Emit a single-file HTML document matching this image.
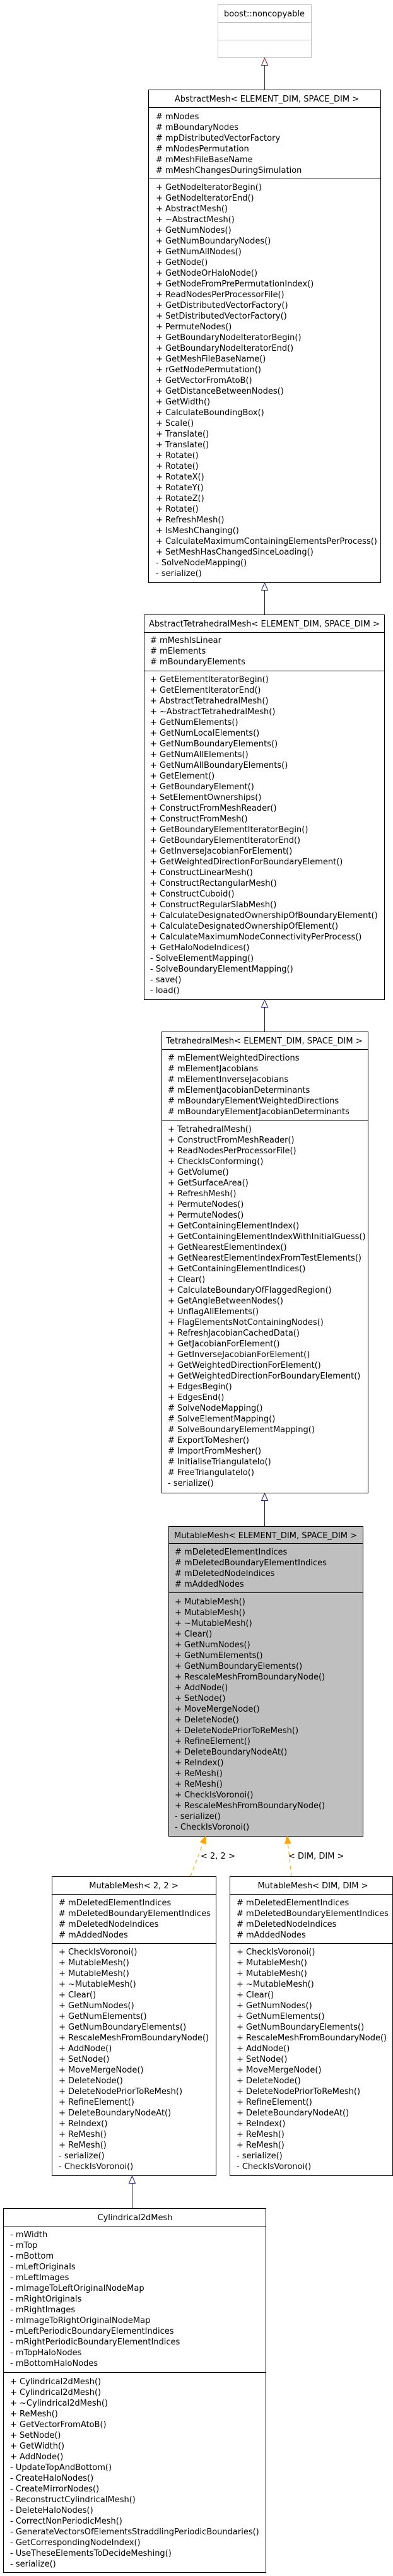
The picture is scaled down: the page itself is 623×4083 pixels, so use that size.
<!DOCTYPE html>
<html><head><meta charset="utf-8"><style>
html,body{margin:0;padding:0;background:#fff;}
svg{display:block;}
text{font-family:"DejaVu Sans","Liberation Sans",sans-serif;font-size:13px;fill:#000;}
</style></head><body>
<svg width="623" height="4083" viewBox="0 0 623 4083" xmlns="http://www.w3.org/2000/svg">
<rect x="0" y="0" width="623" height="4083" fill="#fff"/>

<rect x="345.5" y="7.5" width="148" height="84" fill="#fff" stroke="#bfbfbf"/>
<line x1="345" y1="35.5" x2="493" y2="35.5" stroke="#bfbfbf"/>
<line x1="345" y1="63.5" x2="493" y2="63.5" stroke="#bfbfbf"/>
<text x="419" y="26" text-anchor="middle">boost::noncopyable</text>

<line x1="419.5" y1="142" x2="419.5" y2="103" stroke="#8b1a1a"/>
<polygon points="419.5,92 414.5,103.5 424.5,103.5" fill="#fff" stroke="#8b1a1a"/>

<rect x="235.5" y="142.5" width="368" height="781" fill="#fff" stroke="#000"/>
<line x1="235" y1="170.5" x2="603" y2="170.5" stroke="#000"/>
<line x1="235" y1="283.5" x2="603" y2="283.5" stroke="#000"/>
<text x="423" y="161" text-anchor="middle">AbstractMesh&lt; ELEMENT_DIM, SPACE_DIM &gt;</text>
<text y="189">
<tspan x="247">#&#160;mNodes</tspan>
<tspan x="247" dy="17">#&#160;mBoundaryNodes</tspan>
<tspan x="247" dy="17">#&#160;mpDistributedVectorFactory</tspan>
<tspan x="247" dy="17">#&#160;mNodesPermutation</tspan>
<tspan x="247" dy="17">#&#160;mMeshFileBaseName</tspan>
<tspan x="247" dy="17">#&#160;mMeshChangesDuringSimulation</tspan>
</text>
<text y="301">
<tspan x="247">+ GetNodeIteratorBegin()</tspan>
<tspan x="247" dy="17">+ GetNodeIteratorEnd()</tspan>
<tspan x="247" dy="17">+ AbstractMesh()</tspan>
<tspan x="247" dy="17">+ ~AbstractMesh()</tspan>
<tspan x="247" dy="17">+ GetNumNodes()</tspan>
<tspan x="247" dy="17">+ GetNumBoundaryNodes()</tspan>
<tspan x="247" dy="17">+ GetNumAllNodes()</tspan>
<tspan x="247" dy="17">+ GetNode()</tspan>
<tspan x="247" dy="17">+ GetNodeOrHaloNode()</tspan>
<tspan x="247" dy="17">+ GetNodeFromPrePermutationIndex()</tspan>
<tspan x="247" dy="17">+ ReadNodesPerProcessorFile()</tspan>
<tspan x="247" dy="17">+ GetDistributedVectorFactory()</tspan>
<tspan x="247" dy="17">+ SetDistributedVectorFactory()</tspan>
<tspan x="247" dy="17">+ PermuteNodes()</tspan>
<tspan x="247" dy="17">+ GetBoundaryNodeIteratorBegin()</tspan>
<tspan x="247" dy="17">+ GetBoundaryNodeIteratorEnd()</tspan>
<tspan x="247" dy="17">+ GetMeshFileBaseName()</tspan>
<tspan x="247" dy="17">+ rGetNodePermutation()</tspan>
<tspan x="247" dy="17">+ GetVectorFromAtoB()</tspan>
<tspan x="247" dy="17">+ GetDistanceBetweenNodes()</tspan>
<tspan x="247" dy="17">+ GetWidth()</tspan>
<tspan x="247" dy="17">+ CalculateBoundingBox()</tspan>
<tspan x="247" dy="17">+ Scale()</tspan>
<tspan x="247" dy="17">+ Translate()</tspan>
<tspan x="247" dy="17">+ Translate()</tspan>
<tspan x="247" dy="17">+ Rotate()</tspan>
<tspan x="247" dy="17">+ Rotate()</tspan>
<tspan x="247" dy="17">+ RotateX()</tspan>
<tspan x="247" dy="17">+ RotateY()</tspan>
<tspan x="247" dy="17">+ RotateZ()</tspan>
<tspan x="247" dy="17">+ Rotate()</tspan>
<tspan x="247" dy="17">+ RefreshMesh()</tspan>
<tspan x="247" dy="17">+ IsMeshChanging()</tspan>
<tspan x="247" dy="17">+ CalculateMaximumContainingElementsPerProcess()</tspan>
<tspan x="247" dy="17">+ SetMeshHasChangedSinceLoading()</tspan>
<tspan x="247" dy="17">- SolveNodeMapping()</tspan>
<tspan x="247" dy="17">- serialize()</tspan>
</text>

<line x1="419.5" y1="974" x2="419.5" y2="935" stroke="#191970"/>
<polygon points="419.5,924 414.5,935.5 424.5,935.5" fill="#fff" stroke="#191970"/>

<rect x="228.5" y="974.5" width="381" height="610" fill="#fff" stroke="#000"/>
<line x1="228" y1="1002.5" x2="609" y2="1002.5" stroke="#000"/>
<line x1="228" y1="1063.5" x2="609" y2="1063.5" stroke="#000"/>
<text x="419" y="993" text-anchor="middle">AbstractTetrahedralMesh&lt; ELEMENT_DIM, SPACE_DIM &gt;</text>
<text y="1019">
<tspan x="238">#&#160;mMeshIsLinear</tspan>
<tspan x="238" dy="17">#&#160;mElements</tspan>
<tspan x="238" dy="17">#&#160;mBoundaryElements</tspan>
</text>
<text y="1081">
<tspan x="238">+ GetElementIteratorBegin()</tspan>
<tspan x="238" dy="17">+ GetElementIteratorEnd()</tspan>
<tspan x="238" dy="17">+ AbstractTetrahedralMesh()</tspan>
<tspan x="238" dy="17">+ ~AbstractTetrahedralMesh()</tspan>
<tspan x="238" dy="17">+ GetNumElements()</tspan>
<tspan x="238" dy="17">+ GetNumLocalElements()</tspan>
<tspan x="238" dy="17">+ GetNumBoundaryElements()</tspan>
<tspan x="238" dy="17">+ GetNumAllElements()</tspan>
<tspan x="238" dy="17">+ GetNumAllBoundaryElements()</tspan>
<tspan x="238" dy="17">+ GetElement()</tspan>
<tspan x="238" dy="17">+ GetBoundaryElement()</tspan>
<tspan x="238" dy="17">+ SetElementOwnerships()</tspan>
<tspan x="238" dy="17">+ ConstructFromMeshReader()</tspan>
<tspan x="238" dy="17">+ ConstructFromMesh()</tspan>
<tspan x="238" dy="17">+ GetBoundaryElementIteratorBegin()</tspan>
<tspan x="238" dy="17">+ GetBoundaryElementIteratorEnd()</tspan>
<tspan x="238" dy="17">+ GetInverseJacobianForElement()</tspan>
<tspan x="238" dy="17">+ GetWeightedDirectionForBoundaryElement()</tspan>
<tspan x="238" dy="17">+ ConstructLinearMesh()</tspan>
<tspan x="238" dy="17">+ ConstructRectangularMesh()</tspan>
<tspan x="238" dy="17">+ ConstructCuboid()</tspan>
<tspan x="238" dy="17">+ ConstructRegularSlabMesh()</tspan>
<tspan x="238" dy="17">+ CalculateDesignatedOwnershipOfBoundaryElement()</tspan>
<tspan x="238" dy="17">+ CalculateDesignatedOwnershipOfElement()</tspan>
<tspan x="238" dy="17">+ CalculateMaximumNodeConnectivityPerProcess()</tspan>
<tspan x="238" dy="17">+ GetHaloNodeIndices()</tspan>
<tspan x="238" dy="17">- SolveElementMapping()</tspan>
<tspan x="238" dy="17">- SolveBoundaryElementMapping()</tspan>
<tspan x="238" dy="17">- save()</tspan>
<tspan x="238" dy="17">- load()</tspan>
</text>

<line x1="419.5" y1="1635" x2="419.5" y2="1596" stroke="#191970"/>
<polygon points="419.5,1585 414.5,1596.5 424.5,1596.5" fill="#fff" stroke="#191970"/>

<rect x="256.5" y="1635.5" width="327" height="731" fill="#fff" stroke="#000"/>
<line x1="256" y1="1663.5" x2="583" y2="1663.5" stroke="#000"/>
<line x1="256" y1="1776.5" x2="583" y2="1776.5" stroke="#000"/>
<text x="419" y="1654" text-anchor="middle">TetrahedralMesh&lt; ELEMENT_DIM, SPACE_DIM &gt;</text>
<text y="1681">
<tspan x="266">#&#160;mElementWeightedDirections</tspan>
<tspan x="266" dy="17">#&#160;mElementJacobians</tspan>
<tspan x="266" dy="17">#&#160;mElementInverseJacobians</tspan>
<tspan x="266" dy="17">#&#160;mElementJacobianDeterminants</tspan>
<tspan x="266" dy="17">#&#160;mBoundaryElementWeightedDirections</tspan>
<tspan x="266" dy="17">#&#160;mBoundaryElementJacobianDeterminants</tspan>
</text>
<text y="1794">
<tspan x="266">+ TetrahedralMesh()</tspan>
<tspan x="266" dy="17">+ ConstructFromMeshReader()</tspan>
<tspan x="266" dy="17">+ ReadNodesPerProcessorFile()</tspan>
<tspan x="266" dy="17">+ CheckIsConforming()</tspan>
<tspan x="266" dy="17">+ GetVolume()</tspan>
<tspan x="266" dy="17">+ GetSurfaceArea()</tspan>
<tspan x="266" dy="17">+ RefreshMesh()</tspan>
<tspan x="266" dy="17">+ PermuteNodes()</tspan>
<tspan x="266" dy="17">+ PermuteNodes()</tspan>
<tspan x="266" dy="17">+ GetContainingElementIndex()</tspan>
<tspan x="266" dy="17">+ GetContainingElementIndexWithInitialGuess()</tspan>
<tspan x="266" dy="17">+ GetNearestElementIndex()</tspan>
<tspan x="266" dy="17">+ GetNearestElementIndexFromTestElements()</tspan>
<tspan x="266" dy="17">+ GetContainingElementIndices()</tspan>
<tspan x="266" dy="17">+ Clear()</tspan>
<tspan x="266" dy="17">+ CalculateBoundaryOfFlaggedRegion()</tspan>
<tspan x="266" dy="17">+ GetAngleBetweenNodes()</tspan>
<tspan x="266" dy="17">+ UnflagAllElements()</tspan>
<tspan x="266" dy="17">+ FlagElementsNotContainingNodes()</tspan>
<tspan x="266" dy="17">+ RefreshJacobianCachedData()</tspan>
<tspan x="266" dy="17">+ GetJacobianForElement()</tspan>
<tspan x="266" dy="17">+ GetInverseJacobianForElement()</tspan>
<tspan x="266" dy="17">+ GetWeightedDirectionForElement()</tspan>
<tspan x="266" dy="17">+ GetWeightedDirectionForBoundaryElement()</tspan>
<tspan x="266" dy="17">+ EdgesBegin()</tspan>
<tspan x="266" dy="17">+ EdgesEnd()</tspan>
<tspan x="266" dy="17">#&#160;SolveNodeMapping()</tspan>
<tspan x="266" dy="17">#&#160;SolveElementMapping()</tspan>
<tspan x="266" dy="17">#&#160;SolveBoundaryElementMapping()</tspan>
<tspan x="266" dy="17">#&#160;ExportToMesher()</tspan>
<tspan x="266" dy="17">#&#160;ImportFromMesher()</tspan>
<tspan x="266" dy="17">#&#160;InitialiseTriangulateIo()</tspan>
<tspan x="266" dy="17">#&#160;FreeTriangulateIo()</tspan>
<tspan x="266" dy="17">- serialize()</tspan>
</text>

<line x1="419.5" y1="2419" x2="419.5" y2="2378" stroke="#191970"/>
<polygon points="419.5,2367 414.5,2378.5 424.5,2378.5" fill="#fff" stroke="#191970"/>

<rect x="267.5" y="2419.5" width="308" height="491" fill="#bfbfbf" stroke="#000"/>
<line x1="267" y1="2446.5" x2="575" y2="2446.5" stroke="#000"/>
<line x1="267" y1="2524.5" x2="575" y2="2524.5" stroke="#000"/>
<text x="421" y="2438" text-anchor="middle">MutableMesh&lt; ELEMENT_DIM, SPACE_DIM &gt;</text>
<text y="2464">
<tspan x="277">#&#160;mDeletedElementIndices</tspan>
<tspan x="277" dy="17">#&#160;mDeletedBoundaryElementIndices</tspan>
<tspan x="277" dy="17">#&#160;mDeletedNodeIndices</tspan>
<tspan x="277" dy="17">#&#160;mAddedNodes</tspan>
</text>
<text y="2543">
<tspan x="277">+ MutableMesh()</tspan>
<tspan x="277" dy="17">+ MutableMesh()</tspan>
<tspan x="277" dy="17">+ ~MutableMesh()</tspan>
<tspan x="277" dy="17">+ Clear()</tspan>
<tspan x="277" dy="17">+ GetNumNodes()</tspan>
<tspan x="277" dy="17">+ GetNumElements()</tspan>
<tspan x="277" dy="17">+ GetNumBoundaryElements()</tspan>
<tspan x="277" dy="17">+ RescaleMeshFromBoundaryNode()</tspan>
<tspan x="277" dy="17">+ AddNode()</tspan>
<tspan x="277" dy="17">+ SetNode()</tspan>
<tspan x="277" dy="17">+ MoveMergeNode()</tspan>
<tspan x="277" dy="17">+ DeleteNode()</tspan>
<tspan x="277" dy="17">+ DeleteNodePriorToReMesh()</tspan>
<tspan x="277" dy="17">+ RefineElement()</tspan>
<tspan x="277" dy="17">+ DeleteBoundaryNodeAt()</tspan>
<tspan x="277" dy="17">+ ReIndex()</tspan>
<tspan x="277" dy="17">+ ReMesh()</tspan>
<tspan x="277" dy="17">+ ReMesh()</tspan>
<tspan x="277" dy="17">+ CheckIsVoronoi()</tspan>
<tspan x="277" dy="17">+ RescaleMeshFromBoundaryNode()</tspan>
<tspan x="277" dy="17">- serialize()</tspan>
<tspan x="277" dy="17">- CheckIsVoronoi()</tspan>
</text>

<line x1="302" y1="2974" x2="322" y2="2921" stroke="#ffa500" stroke-dasharray="6,5"/>
<polygon points="326,2910 326.2,2922.8 317.6,2919.6" fill="#ffa500" stroke="#ffa500"/>
<text x="318" y="2946">&lt; 2, 2 &gt;</text>
<line x1="462" y1="2974" x2="456.3" y2="2922" stroke="#ffa500" stroke-dasharray="6,5"/>
<polygon points="455,2910 460.8,2921.4 451.8,2922.4" fill="#ffa500" stroke="#ffa500"/>
<text x="457" y="2946">&lt; DIM, DIM &gt;</text>

<rect x="82.5" y="2974.5" width="260" height="474" fill="#fff" stroke="#000"/>
<line x1="82" y1="3002.5" x2="342" y2="3002.5" stroke="#000"/>
<line x1="82" y1="3080.5" x2="342" y2="3080.5" stroke="#000"/>
<text x="212" y="2993" text-anchor="middle">MutableMesh&lt; 2, 2 &gt;</text>
<text y="3020">
<tspan x="93">#&#160;mDeletedElementIndices</tspan>
<tspan x="93" dy="17">#&#160;mDeletedBoundaryElementIndices</tspan>
<tspan x="93" dy="17">#&#160;mDeletedNodeIndices</tspan>
<tspan x="93" dy="17">#&#160;mAddedNodes</tspan>
</text>
<text y="3098">
<tspan x="93">+ CheckIsVoronoi()</tspan>
<tspan x="93" dy="17">+ MutableMesh()</tspan>
<tspan x="93" dy="17">+ MutableMesh()</tspan>
<tspan x="93" dy="17">+ ~MutableMesh()</tspan>
<tspan x="93" dy="17">+ Clear()</tspan>
<tspan x="93" dy="17">+ GetNumNodes()</tspan>
<tspan x="93" dy="17">+ GetNumElements()</tspan>
<tspan x="93" dy="17">+ GetNumBoundaryElements()</tspan>
<tspan x="93" dy="17">+ RescaleMeshFromBoundaryNode()</tspan>
<tspan x="93" dy="17">+ AddNode()</tspan>
<tspan x="93" dy="17">+ SetNode()</tspan>
<tspan x="93" dy="17">+ MoveMergeNode()</tspan>
<tspan x="93" dy="17">+ DeleteNode()</tspan>
<tspan x="93" dy="17">+ DeleteNodePriorToReMesh()</tspan>
<tspan x="93" dy="17">+ RefineElement()</tspan>
<tspan x="93" dy="17">+ DeleteBoundaryNodeAt()</tspan>
<tspan x="93" dy="17">+ ReIndex()</tspan>
<tspan x="93" dy="17">+ ReMesh()</tspan>
<tspan x="93" dy="17">+ ReMesh()</tspan>
<tspan x="93" dy="17">- serialize()</tspan>
<tspan x="93" dy="17">- CheckIsVoronoi()</tspan>
</text>

<rect x="364.5" y="2974.5" width="258" height="474" fill="#fff" stroke="#000"/>
<line x1="364" y1="3002.5" x2="622" y2="3002.5" stroke="#000"/>
<line x1="364" y1="3080.5" x2="622" y2="3080.5" stroke="#000"/>
<text x="496" y="2993" text-anchor="middle">MutableMesh&lt; DIM, DIM &gt;</text>
<text y="3020">
<tspan x="375">#&#160;mDeletedElementIndices</tspan>
<tspan x="375" dy="17">#&#160;mDeletedBoundaryElementIndices</tspan>
<tspan x="375" dy="17">#&#160;mDeletedNodeIndices</tspan>
<tspan x="375" dy="17">#&#160;mAddedNodes</tspan>
</text>
<text y="3098">
<tspan x="375">+ CheckIsVoronoi()</tspan>
<tspan x="375" dy="17">+ MutableMesh()</tspan>
<tspan x="375" dy="17">+ MutableMesh()</tspan>
<tspan x="375" dy="17">+ ~MutableMesh()</tspan>
<tspan x="375" dy="17">+ Clear()</tspan>
<tspan x="375" dy="17">+ GetNumNodes()</tspan>
<tspan x="375" dy="17">+ GetNumElements()</tspan>
<tspan x="375" dy="17">+ GetNumBoundaryElements()</tspan>
<tspan x="375" dy="17">+ RescaleMeshFromBoundaryNode()</tspan>
<tspan x="375" dy="17">+ AddNode()</tspan>
<tspan x="375" dy="17">+ SetNode()</tspan>
<tspan x="375" dy="17">+ MoveMergeNode()</tspan>
<tspan x="375" dy="17">+ DeleteNode()</tspan>
<tspan x="375" dy="17">+ DeleteNodePriorToReMesh()</tspan>
<tspan x="375" dy="17">+ RefineElement()</tspan>
<tspan x="375" dy="17">+ DeleteBoundaryNodeAt()</tspan>
<tspan x="375" dy="17">+ ReIndex()</tspan>
<tspan x="375" dy="17">+ ReMesh()</tspan>
<tspan x="375" dy="17">+ ReMesh()</tspan>
<tspan x="375" dy="17">- serialize()</tspan>
<tspan x="375" dy="17">- CheckIsVoronoi()</tspan>
</text>

<line x1="209.5" y1="3500" x2="209.5" y2="3460" stroke="#191970"/>
<polygon points="209.5,3449 204.5,3460.5 214.5,3460.5" fill="#fff" stroke="#191970"/>

<rect x="5.5" y="3500.5" width="416" height="577" fill="#fff" stroke="#000"/>
<line x1="5" y1="3528.5" x2="421" y2="3528.5" stroke="#000"/>
<line x1="5" y1="3760.5" x2="421" y2="3760.5" stroke="#000"/>
<text x="214" y="3519" text-anchor="middle">Cylindrical2dMesh</text>
<text y="3546">
<tspan x="16">- mWidth</tspan>
<tspan x="16" dy="17">- mTop</tspan>
<tspan x="16" dy="17">- mBottom</tspan>
<tspan x="16" dy="17">- mLeftOriginals</tspan>
<tspan x="16" dy="17">- mLeftImages</tspan>
<tspan x="16" dy="17">- mImageToLeftOriginalNodeMap</tspan>
<tspan x="16" dy="17">- mRightOriginals</tspan>
<tspan x="16" dy="17">- mRightImages</tspan>
<tspan x="16" dy="17">- mImageToRightOriginalNodeMap</tspan>
<tspan x="16" dy="17">- mLeftPeriodicBoundaryElementIndices</tspan>
<tspan x="16" dy="17">- mRightPeriodicBoundaryElementIndices</tspan>
<tspan x="16" dy="17">- mTopHaloNodes</tspan>
<tspan x="16" dy="17">- mBottomHaloNodes</tspan>
</text>
<text y="3779">
<tspan x="16">+ Cylindrical2dMesh()</tspan>
<tspan x="16" dy="17">+ Cylindrical2dMesh()</tspan>
<tspan x="16" dy="17">+ ~Cylindrical2dMesh()</tspan>
<tspan x="16" dy="17">+ ReMesh()</tspan>
<tspan x="16" dy="17">+ GetVectorFromAtoB()</tspan>
<tspan x="16" dy="17">+ SetNode()</tspan>
<tspan x="16" dy="17">+ GetWidth()</tspan>
<tspan x="16" dy="17">+ AddNode()</tspan>
<tspan x="16" dy="17">- UpdateTopAndBottom()</tspan>
<tspan x="16" dy="17">- CreateHaloNodes()</tspan>
<tspan x="16" dy="17">- CreateMirrorNodes()</tspan>
<tspan x="16" dy="17">- ReconstructCylindricalMesh()</tspan>
<tspan x="16" dy="17">- DeleteHaloNodes()</tspan>
<tspan x="16" dy="17">- CorrectNonPeriodicMesh()</tspan>
<tspan x="16" dy="17">- GenerateVectorsOfElementsStraddlingPeriodicBoundaries()</tspan>
<tspan x="16" dy="17">- GetCorrespondingNodeIndex()</tspan>
<tspan x="16" dy="17">- UseTheseElementsToDecideMeshing()</tspan>
<tspan x="16" dy="17">- serialize()</tspan>
</text>
</svg>
</body></html>
